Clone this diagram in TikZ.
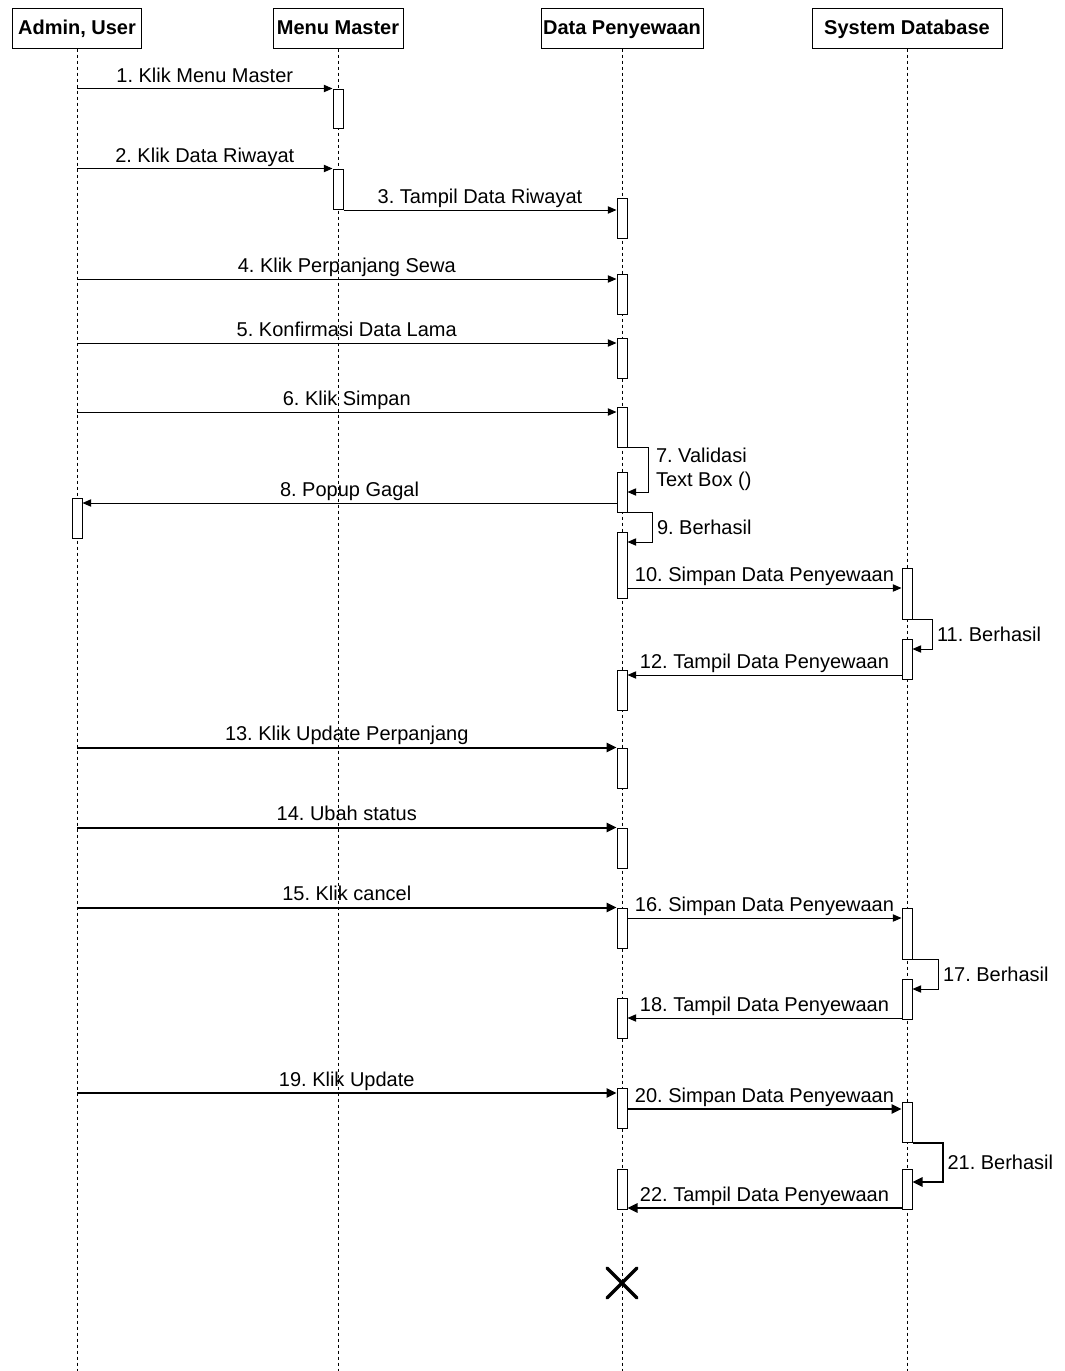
\documentclass[tikz,border=0pt]{standalone}
\usepackage{fontspec}
\setmainfont{Liberation Sans}
\usetikzlibrary{arrows.meta}
\newcommand\actbox[4]{\node[act, minimum height={(#4-#3)*0.75pt}] (#1) at (#2,{(#3+#4)/2}) {};}
\frenchspacing
\begin{document}
\begin{tikzpicture}[x=0.75pt,y=-0.75pt,
  head/.style={draw, line width=0.75pt, minimum height=30pt, inner sep=0pt, text height=12pt, text depth=2pt, font=\fontsize{15pt}{18pt}\selectfont\bfseries},
  life/.style={line width=0.75pt, dash pattern=on 2.25pt off 2.25pt},
  act/.style={draw, fill=white, line width=0.75pt, minimum width=7.5pt, inner sep=0pt},
  msg/.style={line width=0.75pt, -{Triangle[length=6.5pt,width=5.5pt]}},
  msgb/.style={line width=1.5pt, -{Triangle[length=7.5pt,width=7pt]}},
  lbl/.style={font=\fontsize{15pt}{18pt}\selectfont, inner sep=1pt, text height=11pt, text depth=3.5pt},
  lbls/.style={font=\fontsize{15pt}{18pt}\selectfont, inner sep=0pt, align=left, anchor=west},
]
\useasboundingbox (0,0) rectangle (1064,1371);
% headers
\node[head, minimum width=96.75pt] (au) at (77,28) {Admin, User};
\node[head, minimum width=97.5pt] (mm) at (338,28) {Menu Master};
\node[head, minimum width=121.5pt] (dp) at (622,28) {Data Penyewaan};
\node[head, minimum width=142.5pt] (sd) at (907,28) {System Database};
% lifelines
\coordinate (auE) at (77,1371);
\coordinate (mmE) at (338,1371);
\coordinate (dpE) at (622,1371);
\coordinate (sdE) at (907,1371);
\draw[life] (au.south) -- (auE);
\draw[life] (mm.south) -- (mmE);
\draw[life] (dp.south) -- (dpE);
\draw[life] (sd.south) -- (sdE);
% activation boxes
\actbox{m1}{338}{89}{128}
\actbox{m2}{338}{169}{209}
\actbox{d1}{622}{198}{238}
\actbox{d2}{622}{274}{314}
\actbox{d3}{622}{338}{378}
\actbox{d4}{622}{407}{447}
\actbox{d5}{622}{472}{512}
\actbox{a1}{77}{498}{538}
\actbox{d6}{622}{532}{598}
\actbox{s1}{907}{568}{619}
\actbox{s2}{907}{639}{679}
\actbox{d7}{622}{670}{710}
\actbox{d8}{622}{748}{788}
\actbox{d9}{622}{828}{868}
\actbox{d10}{622}{908}{948}
\actbox{s3}{907}{908}{959}
\actbox{s4}{907}{979}{1019}
\actbox{d11}{622}{998}{1038}
\actbox{d12}{622}{1088}{1128}
\actbox{s5}{907}{1102}{1142}
\actbox{s6}{907}{1169}{1209}
\actbox{d13}{622}{1169}{1209}
% messages
\draw[msg] (au |- m1.north) -- node[lbl, above] {1. Klik Menu Master} (m1.north west);
\draw[msg] (au |- m2.north) -- node[lbl, above] {2. Klik Data Riwayat} (m2.north west);
\draw[msg] (m2.east |- 0,210) -- node[lbl, above] {3. Tampil Data Riwayat} (d1.west |- 0,210);
\draw[msg] (au |- 0,279) -- node[lbl, above] {4. Klik Perpanjang Sewa} (d2.west |- 0,279);
\draw[msg] (au |- 0,343) -- node[lbl, above] {5. Konfirmasi Data Lama} (d3.west |- 0,343);
\draw[msg] (au |- 0,412) -- node[lbl, above] {6. Klik Simpan} (d4.west |- 0,412);
\draw[msg] (d4.south east) -- ++(21,0) |- node[lbls, pos=0.25, xshift=5.25pt] {7. Validasi\\Text Box ()} (d5.east |- 0,492);
\draw[msg] (d5.west |- 0,503) -- node[lbl, above] {8. Popup Gagal} (a1.east |- 0,503);
\draw[msg] (d5.south east) -- ++(25,0) |- node[lbls, pos=0.25, xshift=3pt] {9. Berhasil} (d6.east |- 0,542);
\draw[msg] (d6.east |- 0,588) -- node[lbl, above] {10. Simpan Data Penyewaan} (s1.west |- 0,588);
\draw[msg] (s1.south east) -- ++(20,0) |- node[lbls, pos=0.25, xshift=3pt] {11. Berhasil} (s2.east |- 0,649);
\draw[msg] (s2.west |- 0,675) -- node[lbl, above] {12. Tampil Data Penyewaan} (d7.east |- 0,675);
\draw[msgb] (au |- d8.north) -- node[lbl, above] {13. Klik Update Perpanjang} (d8.north west);
\draw[msgb] (au |- d9.north) -- node[lbl, above] {14. Ubah status} (d9.north west);
\draw[msgb] (au |- d10.north) -- node[lbl, above] {15. Klik cancel} (d10.north west);
\draw[msg] (d10.east |- 0,918) -- node[lbl, above] {16. Simpan Data Penyewaan} (s3.west |- 0,918);
\draw[msg] (s3.south east) -- ++(26,0) |- node[lbls, pos=0.25, xshift=3pt] {17. Berhasil} (s4.east |- 0,989);
\draw[msg] (s4.west |- 0,1018) -- node[lbl, above] {18. Tampil Data Penyewaan} (d11.east |- 0,1018);
\draw[msgb] (au |- 0,1093) -- node[lbl, above] {19. Klik Update} (d12.west |- 0,1093);
\draw[msgb] (d12.east |- 0,1109) -- node[lbl, above] {20. Simpan Data Penyewaan} (s5.west |- 0,1109);
\draw[msgb] (s5.south east) -- ++(30,0) |- node[lbls, pos=0.25, xshift=3pt] {21. Berhasil} (s6.east |- 0,1182);
\draw[msgb] (s6.west |- 0,1208) -- node[lbl, above] {22. Tampil Data Penyewaan} (d13.east |- 0,1208);
% destroy
\coordinate (x1) at (607,1268);
\coordinate (x2) at (637,1298);
\coordinate (x3) at (607,1298);
\coordinate (x4) at (637,1268);
\draw[line width=2.5pt, line cap=round] (x1) -- (x2) (x3) -- (x4);
\end{tikzpicture}
\end{document}
